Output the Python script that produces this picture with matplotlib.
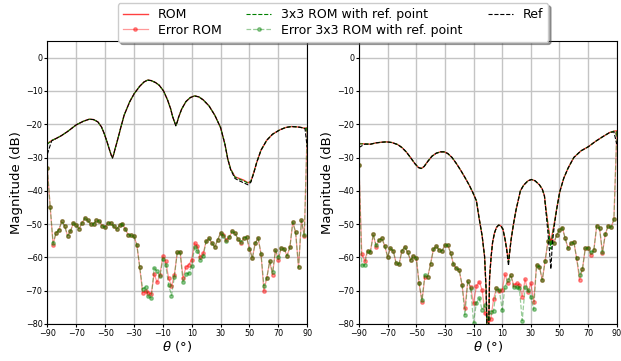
import matplotlib.pyplot as plt
import numpy as np

# pattern curves (dB), sampled where the shape changes
theta_left = [-90, -87, -84, -80.5, -76, -70, -65, -61, -58, -55,
              -52.5, -50.5, -48.5, -47, -45.8, -44.9, -44, -43, -41.4, -39,
              -36.8, -33, -29.8, -26, -23, -20.5, -18, -15, -12.5, -9.5,
              -6.7, -4.5, -3.2, -2, -1, 0, 1, 3, 6, 9,
              12, 15, 18, 22, 26, 30, 33, 35, 37, 40,
              43, 46, 49, 51, 53, 55, 58, 62, 66, 71,
              75, 79, 83, 86, 88.5, 90]
rom_left = [-25.8, -24.9, -24.3, -23.5, -22.2, -20.2, -19.1, -18.5, -18.6, -19.3,
            -20.8, -22.9, -25.5, -27.6, -29.2, -30.0, -29.0, -27.3, -24.8, -20.8,
            -17.3, -13.3, -10.8, -8.6, -7.3, -6.75, -6.9, -7.5, -8.3, -10.0,
            -12.75, -15.5, -17.75, -19.2, -20.3, -19.3, -17.8, -15.5, -13.2, -12.0,
            -11.5, -11.8, -12.7, -14.5, -17.3, -21.0, -26.0, -30.5, -33.5, -35.8,
            -36.3, -36.8, -37.6, -37.1, -34.5, -31.5, -27.8, -24.8, -23.0, -21.7,
            -21.0, -20.7, -20.8, -21.0, -21.2, -21.2]
k3_left = [-26.0, -24.9, -24.3, -23.5, -22.2, -20.2, -19.1, -18.5, -18.6, -19.3,
           -20.8, -22.9, -25.5, -27.6, -29.2, -30.1, -29.0, -27.3, -24.8, -20.8,
           -17.3, -13.3, -10.8, -8.6, -7.3, -6.75, -6.9, -7.5, -8.3, -10.0,
           -12.75, -15.5, -17.75, -19.2, -20.4, -19.3, -17.8, -15.5, -13.2, -12.0,
           -11.5, -11.8, -12.7, -14.5, -17.3, -21.0, -26.0, -30.5, -33.5, -35.9,
           -36.5, -37.0, -37.7, -37.1, -34.5, -31.5, -27.8, -24.8, -23.0, -21.7,
           -21.0, -20.7, -20.8, -21.0, -21.2, -21.5]
ref_left = [-29.0, -25.0, -24.3, -23.5, -22.2, -20.2, -19.1, -18.5, -18.6, -19.3,
            -20.8, -22.9, -25.5, -27.6, -29.2, -30.2, -29.0, -27.3, -24.8, -20.8,
            -17.3, -13.3, -10.8, -8.6, -7.3, -6.75, -6.9, -7.5, -8.3, -10.0,
            -12.75, -15.5, -17.75, -19.2, -20.5, -19.3, -17.8, -15.5, -13.2, -12.0,
            -11.5, -11.8, -12.7, -14.5, -17.3, -21.0, -26.0, -30.5, -33.7, -36.3,
            -37.0, -37.6, -38.2, -37.4, -34.7, -31.5, -27.8, -24.8, -23.0, -21.7,
            -21.0, -20.7, -20.8, -21.0, -21.4, -27.0]

theta_right = [-90, -86, -82, -78, -74, -70.7, -67, -63, -60, -57,
               -54, -51, -48.5, -46.5, -44.5, -42, -39, -36, -33, -30.5,
               -28, -25, -22, -19, -16, -13, -10.5, -8, -6, -4,
               -2.3, -1.2, 0, 1.2, 2.3, 3.3, 4.6, 6, 7.5, 9,
               10.5, 12, 13.2, 14.4, 15.3, 16.2, 18, 19.7, 22.7, 25,
               28, 30.5, 33, 36, 38, 39.5, 40.6, 41.8, 43, 44,
               45, 46.4, 48, 50.2, 53, 56, 60, 65, 70, 75,
               80, 85, 88, 90]
rom_right = [-25.8, -25.9, -26.0, -25.6, -25.4, -25.3, -25.5, -26.1, -27.0, -28.3,
             -30.0, -31.8, -33.0, -33.3, -32.7, -31.2, -29.6, -28.7, -28.3, -28.3,
             -28.8, -30.0, -31.8, -33.8, -36.0, -38.3, -40.5, -43.0, -48.5, -53.5,
             -59.7, -69.7, -95.0, -66.0, -59.7, -55.5, -52.7, -51.0, -50.3, -50.5,
             -51.5, -54.5, -57.5, -61.2, -58.0, -54.7, -49.7, -45.7, -40.0, -38.3,
             -37.0, -36.6, -37.0, -38.2, -39.5, -41.5, -45.7, -49.5, -53.5, -56.0,
             -53.0, -49.7, -45.5, -40.3, -36.2, -33.2, -30.0, -28.0, -26.8, -25.2,
             -23.8, -22.5, -22.1, -22.0]
k3_right = [-25.9, -25.9, -26.0, -25.6, -25.4, -25.3, -25.5, -26.1, -27.0, -28.3,
            -30.0, -31.8, -33.0, -33.3, -32.7, -31.2, -29.6, -28.7, -28.3, -28.3,
            -28.8, -30.0, -31.8, -33.8, -36.0, -38.3, -40.5, -43.0, -48.5, -53.5,
            -59.7, -69.7, -95.0, -66.0, -59.7, -55.5, -52.7, -51.0, -50.3, -50.5,
            -51.5, -54.5, -57.6, -61.5, -58.0, -54.7, -49.7, -45.7, -40.0, -38.3,
            -37.0, -36.6, -37.0, -38.2, -39.5, -41.5, -45.8, -49.8, -54.0, -57.5,
            -53.5, -49.8, -45.5, -40.3, -36.2, -33.2, -30.0, -28.0, -26.8, -25.2,
            -23.8, -22.5, -22.1, -22.2]
ref_right = [-27.0, -26.0, -26.0, -25.6, -25.4, -25.3, -25.5, -26.1, -27.0, -28.3,
             -30.0, -31.8, -33.0, -33.3, -32.7, -31.2, -29.6, -28.7, -28.3, -28.3,
             -28.8, -30.0, -31.8, -33.8, -36.0, -38.3, -40.5, -43.0, -48.5, -53.5,
             -59.7, -69.7, -95.0, -66.0, -59.7, -55.5, -52.7, -51.0, -50.3, -50.5,
             -51.5, -54.6, -58.0, -62.5, -58.3, -54.8, -49.7, -45.7, -40.0, -38.3,
             -37.0, -36.6, -37.0, -38.2, -39.5, -41.6, -46.5, -52.0, -58.0, -63.5,
             -56.0, -50.5, -45.7, -40.3, -36.2, -33.2, -30.0, -28.0, -26.8, -25.2,
             -23.8, -22.5, -22.3, -26.0]

# error curves, one value every 2 degrees from -90 to 90
theta_err = list(range(-90, 91, 2))
err_rom_left = [-33.2, -44.9, -56.2, -52.7, -51.7, -49.2, -50.5, -53.5, -52.2, -49.7,
                -50.2, -51.4, -49.7, -48.2, -48.9, -50.0, -49.9, -48.9, -49.1, -50.5,
                -50.9, -49.7, -49.6, -50.7, -51.5, -50.4, -49.9, -51.5, -53.2, -53.4,
                -53.7, -56.2, -62.9, -70.7, -70.2, -70.7, -71.0, -64.9, -67.5, -65.2,
                -59.7, -61.2, -66.2, -68.7, -65.2, -58.5, -58.4, -66.2, -62.9, -62.2,
                -60.7, -55.7, -56.7, -59.9, -58.7, -55.2, -54.3, -55.7, -56.9, -54.7,
                -52.7, -53.2, -54.7, -53.9, -52.2, -52.7, -54.5, -55.7, -54.2, -53.9,
                -57.4, -60.2, -55.7, -54.2, -58.9, -70.0, -66.2, -61.2, -65.2, -57.9,
                -60.7, -57.2, -57.4, -59.5, -57.0, -49.4, -52.5, -63.0, -48.9, -53.7,
                -21.5]
err_k3_left = [-33.2, -44.9, -55.7, -52.7, -51.7, -49.2, -50.5, -53.5, -52.2, -49.7,
               -50.2, -51.4, -49.7, -48.2, -48.9, -50.0, -49.9, -48.9, -49.1, -50.5,
               -50.9, -49.7, -49.6, -50.7, -51.5, -50.4, -49.9, -51.5, -53.2, -53.4,
               -53.7, -56.2, -62.9, -69.5, -68.9, -71.7, -72.2, -63.2, -64.2, -65.7,
               -60.5, -62.2, -68.2, -71.5, -65.8, -58.5, -58.4, -67.5, -65.0, -64.8,
               -62.5, -57.0, -58.2, -60.7, -59.5, -55.2, -54.3, -55.7, -56.9, -54.7,
               -52.7, -53.5, -55.2, -53.9, -52.2, -52.7, -54.5, -55.3, -54.2, -53.9,
               -57.4, -60.2, -55.7, -54.2, -58.9, -68.5, -66.2, -61.2, -64.5, -57.9,
               -59.9, -57.2, -57.4, -59.5, -57.0, -49.4, -52.5, -63.0, -48.9, -53.3,
               -21.5]
err_rom_right = [-32.3, -59.0, -61.0, -58.0, -58.3, -53.1, -56.8, -54.8, -54.3, -56.5,
                 -59.8, -57.3, -58.1, -61.8, -62.1, -58.0, -56.8, -58.5, -60.8, -59.6,
                 -60.1, -67.8, -73.3, -65.8, -65.8, -62.0, -57.6, -56.6, -57.8, -58.0,
                 -56.4, -56.3, -58.6, -62.1, -63.3, -63.8, -68.3, -75.3, -67.0, -69.0,
                 -73.8, -68.6, -67.3, -69.8, -76.8, -78.8, -78.6, -72.5, -69.3, -70.1,
                 -69.8, -65.1, -67.8, -65.3, -68.3, -67.8, -68.3, -71.8, -66.6, -70.3,
                 -67.8, -73.3, -62.3, -62.8, -66.8, -61.0, -55.0, -54.8, -55.8, -53.3,
                 -51.8, -51.1, -54.3, -57.3, -55.8, -55.3, -60.3, -66.8, -63.6, -57.3,
                 -57.1, -59.3, -57.8, -50.5, -51.3, -58.8, -53.0, -50.5, -51.0, -48.6,
                 -22.5]
err_k3_right = [-32.3, -62.3, -62.3, -58.0, -58.3, -53.1, -56.3, -54.8, -54.3, -56.5,
                -59.8, -57.3, -58.1, -61.8, -62.1, -58.0, -56.8, -58.5, -60.8, -59.6,
                -60.1, -67.8, -72.8, -65.3, -65.8, -62.0, -57.6, -56.6, -57.8, -58.0,
                -56.4, -56.3, -58.6, -62.1, -63.3, -63.8, -68.3, -77.3, -67.0, -69.3,
                -79.6, -73.6, -72.3, -75.8, -74.3, -78.3, -76.3, -76.0, -69.3, -69.8,
                -75.8, -68.8, -66.8, -65.3, -68.8, -69.0, -69.3, -79.0, -68.8, -69.8,
                -71.8, -75.6, -62.3, -62.8, -66.8, -61.0, -55.0, -55.3, -55.8, -53.3,
                -51.8, -51.1, -54.3, -57.3, -55.8, -55.3, -60.3, -65.3, -63.6, -57.3,
                -57.1, -58.5, -57.8, -50.5, -51.3, -58.3, -53.0, -50.5, -51.0, -48.6,
                -22.5]

x_ticks = list(range(-90, 91, 20))
y_ticks = list(range(-80, 1, 10))

panels = [
    (theta_left, rom_left, k3_left, ref_left, err_rom_left, err_k3_left),
    (theta_right, rom_right, k3_right, ref_right, err_rom_right, err_k3_right),
]
positions = [[0.0762, 0.1025, 0.4185, 0.784], [0.578, 0.1025, 0.4152, 0.784]]

fig = plt.figure(figsize=(6.21, 3.61), dpi=100)

for pos, (th, rom, k3, ref, erom, ek3) in zip(positions, panels):
    ax = fig.add_axes(pos)
    ax.plot(th, rom, color="red", alpha=0.75, lw=1.0, label="ROM")
    ax.plot(theta_err, erom, color="red", alpha=0.4, lw=0.9, marker=".", ms=5,
            label="Error ROM")
    ax.plot(th, k3, color="green", ls="--", lw=0.8, label="3x3 ROM with ref. point")
    ax.plot(theta_err, ek3, color="green", alpha=0.4, ls="--", lw=0.9, marker=".", ms=5,
            label="Error 3x3 ROM with ref. point")
    ax.plot(th, ref, color="black", ls="--", lw=0.8, label="Ref")

    ax.set_xlim(-90, 90)
    ax.set_ylim(-80, 5)
    ax.set_xticks(x_ticks)
    ax.set_yticks(y_ticks)
    ax.grid(True, color="#c4c4c4", lw=1.0)
    ax.tick_params(labelsize=5.8, length=2, pad=1.5)
    ax.set_xlabel(r"$\theta$ (°)", fontsize=9.5, labelpad=1)
    ax.set_ylabel("Magnitude (dB)", fontsize=9.5, labelpad=2)

handles, labels = ax.get_legend_handles_labels()
fig.legend(handles, labels, loc="upper center", bbox_to_anchor=(0.536, 1.0), ncol=3,
           fontsize=9, shadow=True, framealpha=1, borderaxespad=0.25,
           columnspacing=2.0, handlelength=2.0, labelspacing=0.2)

fig.savefig("out.png", dpi=100)
plt.close(fig)
